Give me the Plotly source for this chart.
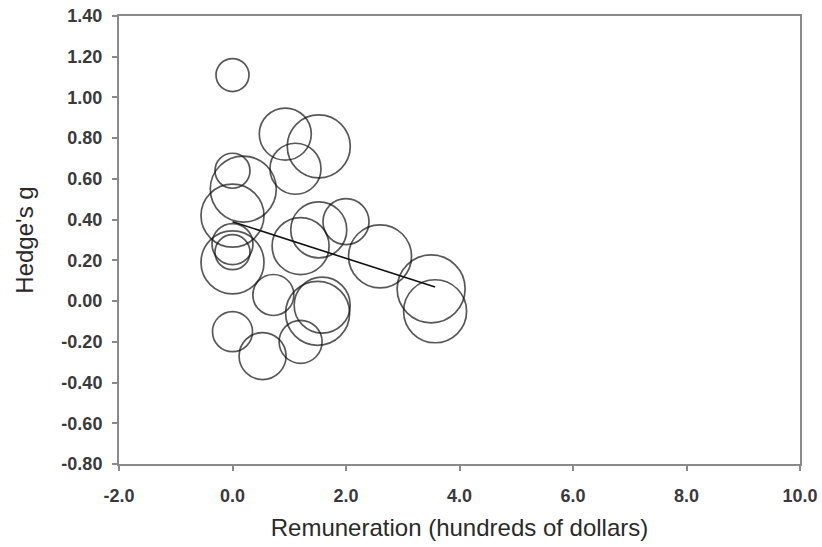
import plotly.graph_objects as go

# Study-level data
remuneration = [0, 0.93, 1.52, 1.11, 0, 0.19, 0, 0, 0, 0, 0, 0.72, 0.53, 1.20,
                1.50, 1.58, 3.50, 3.57, 1.20, 2.60, 1.52, 2.00]
hedges_g = [1.11, 0.82, 0.76, 0.65, 0.64, 0.55, 0.42, 0.28, 0.24, 0.19, -0.15, 0.03,
            -0.27, -0.20, -0.06, -0.02, 0.06, -0.05, 0.27, 0.22, 0.35, 0.39]
study_weight = [3.3, 5.2, 6.3, 5.1, 3.5, 6.6, 6.3, 4.1, 3.5, 6.3, 4.0, 4.1,
                4.7, 4.3, 6.4, 5.6, 6.8, 6.3, 5.7, 6.3, 5.6, 4.6]

# Meta-regression line
reg_intercept = 0.39
reg_slope = -0.09

x_tick_vals = [-2, 0, 2, 4, 6, 8, 10]
x_tick_text = ["-2.0", "0.0", "2.0", "4.0", "6.0", "8.0", "10.0"]
y_tick_vals = [-0.8, -0.6, -0.4, -0.2, 0.0, 0.2, 0.4, 0.6, 0.8, 1.0, 1.2, 1.4]
y_tick_text = ["-0.80", "-0.60", "-0.40", "-0.20", "0.00", "0.20", "0.40", "0.60",
               "0.80", "1.00", "1.20", "1.40"]

reg_x = [min(remuneration), max(remuneration)]
reg_y = [reg_intercept + reg_slope * v for v in reg_x]

fig = go.Figure()
fig.add_trace(go.Scatter(
    x=remuneration, y=hedges_g, mode="markers",
    marker=dict(size=study_weight, sizemode="diameter", sizeref=0.1,
                symbol="circle-open", color="#111111", line=dict(width=1.7, color="#111111")),
    showlegend=False, hoverinfo="x+y",
))
fig.add_trace(go.Scatter(
    x=reg_x, y=reg_y, mode="lines",
    line=dict(color="#111111", width=1.6), showlegend=False,
))

axis_common = dict(
    showline=True, linecolor="#8a8a8a", linewidth=2, mirror=True,
    ticks="outside", ticklen=5, tickcolor="#8a8a8a", tickwidth=1.5,
    showgrid=False, zeroline=False, automargin=False, ticklabeloverflow="allow",
    tickfont=dict(family="Liberation Sans, Arial, sans-serif", size=18, color="#3a3a3a", weight="bold"),
)

fig.update_layout(
    width=822, height=547,
    margin=dict(l=119, r=22, t=16, b=83),
    paper_bgcolor="white", plot_bgcolor="white",
    font=dict(family="Liberation Sans, Arial, sans-serif", color="#2a2a2a"),
    xaxis=dict(range=[-2, 10], tickvals=x_tick_vals, ticktext=x_tick_text,
               title=dict(text="Remuneration (hundreds of dollars)",
                          font=dict(size=24, color="#2a2a2a"), standoff=15),
               ticklabelstandoff=9, **axis_common),
    yaxis=dict(range=[-0.8, 1.4], tickvals=y_tick_vals, ticktext=y_tick_text,
               title=dict(text="Hedge's g", font=dict(size=24, color="#2a2a2a"), standoff=21),
               ticklabelstandoff=6, **axis_common),
)

# Remove the browser's default 8px body margin so the figure fills the window exactly.
fig.write_html("out.html", config={"displayModeBar": False},
               post_script="document.body.style.margin='0';")
